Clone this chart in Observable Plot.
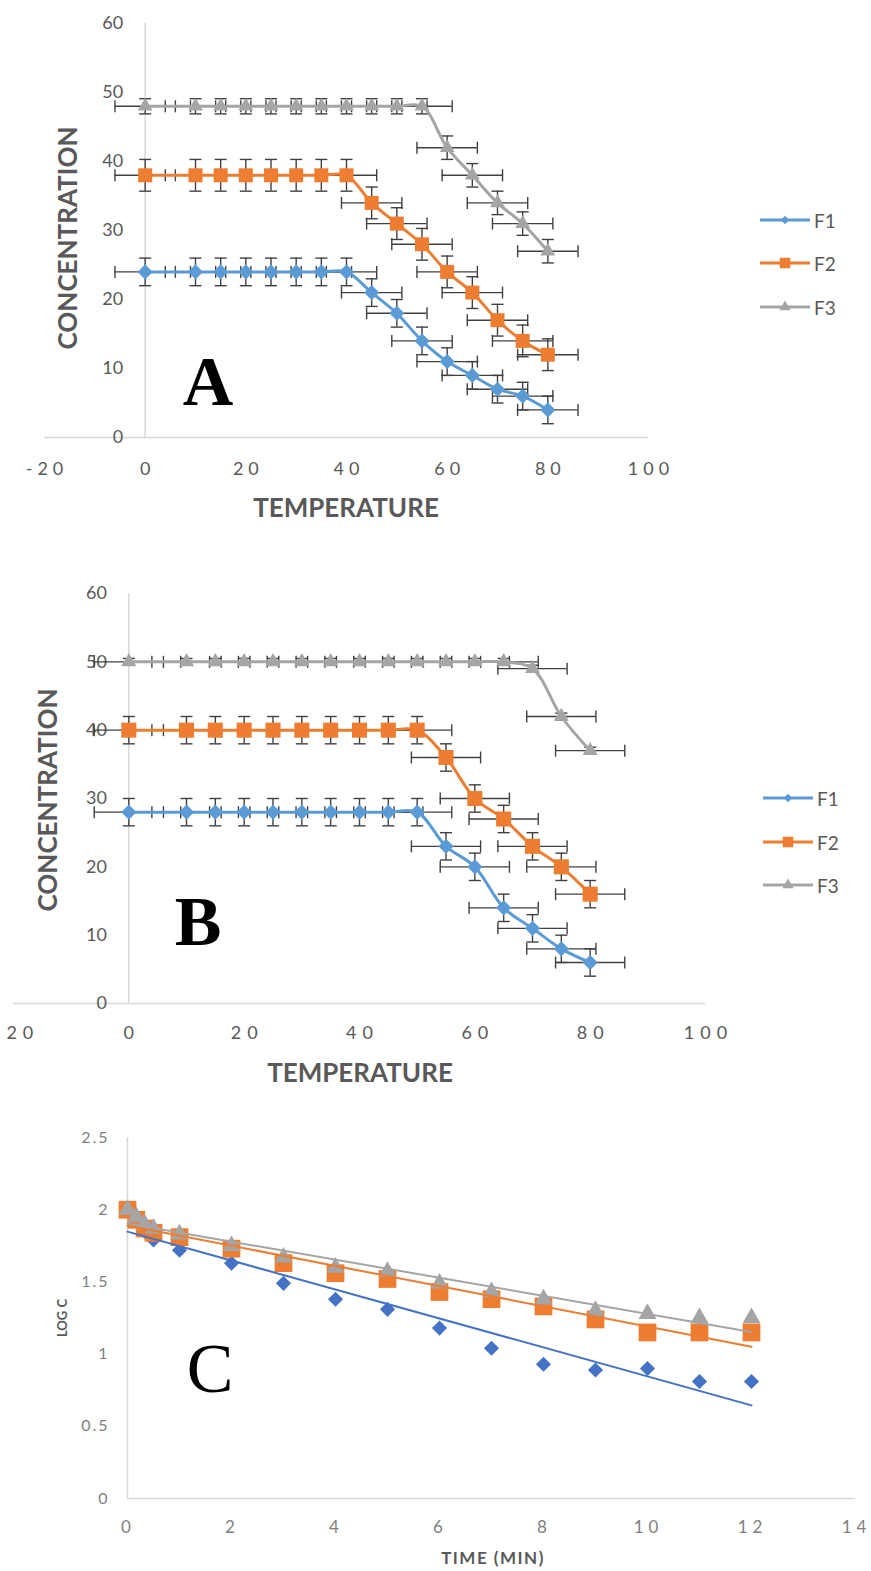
<!DOCTYPE html>
<html><head><meta charset="utf-8">
<script src="https://cdn.jsdelivr.net/npm/d3@7"></script>
<script src="https://cdn.jsdelivr.net/npm/@observablehq/plot@0.6"></script>
<style>
body{margin:0;background:#fff;}
#root{position:relative;width:871px;height:1571px;overflow:hidden;background:#fff;}
#root > svg, #root > div{position:absolute;}
</style></head><body><div id="root"></div>
<script>
// ---------- DATA ----------
const seriesNames = ["F1", "F2", "F3"];
const colorsAB = ["#5B9BD5", "#ED7D31", "#A5A5A5"];
const colorsC = ["#4472C4", "#ED7D31", "#A5A5A5"];
const symbolsAll = ["diamond2", "square", "triangle"];

// Panel A
const tempA = [0, 10, 15, 20, 25, 30, 35, 40, 45, 50, 55, 60, 65, 70, 75, 80];
const a_F1 = [24, 24, 24, 24, 24, 24, 24, 24, 21, 18, 14, 11, 9, 7, 6, 4];
const a_F2 = [38, 38, 38, 38, 38, 38, 38, 38, 34, 31, 28, 24, 21, 17, 14, 12];
const a_F3 = [48, 48, 48, 48, 48, 48, 48, 48, 48, 48, 48, 42, 38, 34, 31, 27];
const a_F1_err = [2, 2, 2, 2, 2, 2, 2, 2, 2, 2, 2, 2, 2, 2, 2, 2];
const a_F2_err = [2.3, 2.3, 2.3, 2.3, 2.3, 2.3, 2.3, 2.3, 2.3, 2.3, 2.3, 2.3, 2.3, 2.3, 2.3, 2.3];
const a_F3_err = [1.1, 1.1, 1.1, 1.1, 1.1, 1.1, 1.1, 1.1, 1.1, 1.1, 1.1, 1.7, 1.7, 1.7, 1.7, 1.7];

// Panel B
const tempB = [0, 10, 15, 20, 25, 30, 35, 40, 45, 50, 55, 60, 65, 70, 75, 80];
const b_F1 = [28, 28, 28, 28, 28, 28, 28, 28, 28, 28, 23, 20, 14, 11, 8, 6];
const b_F2 = [40, 40, 40, 40, 40, 40, 40, 40, 40, 40, 36, 30, 27, 23, 20, 16];
const b_F3 = [50, 50, 50, 50, 50, 50, 50, 50, 50, 50, 50, 50, 50, 49, 42, 37];
const b_F1_err = [2, 2, 2, 2, 2, 2, 2, 2, 2, 2, 2, 2, 2, 2, 2, 2];
const b_F2_err = [2, 2, 2, 2, 2, 2, 2, 2, 2, 2, 2, 2, 2, 2, 2, 2];
const b_F3_err = [0.5, 0.5, 0.5, 0.5, 0.5, 0.5, 0.5, 0.5, 0.5, 0.5, 0.5, 0.5, 0.5, 0.5, 0.5, 0.5];
const tempErr = 6; // horizontal error (°)

// Panel C
const timeC = [0, 0.17, 0.33, 0.5, 1, 2, 3, 4, 5, 6, 7, 8, 9, 10, 11, 12];
const c_F1 = [2.0, 1.92, 1.85, 1.79, 1.72, 1.63, 1.49, 1.38, 1.31, 1.18, 1.04, 0.93, 0.89, 0.90, 0.81, 0.81];
const c_F2 = [2.0, 1.93, 1.87, 1.84, 1.81, 1.73, 1.63, 1.56, 1.52, 1.43, 1.38, 1.33, 1.24, 1.15, 1.15, 1.15];
const c_F3 = [2.0, 1.95, 1.90, 1.87, 1.83, 1.75, 1.67, 1.60, 1.57, 1.49, 1.43, 1.38, 1.30, 1.28, 1.25, 1.25];

// Tick labels
const tempTicks = [-20, 0, 20, 40, 60, 80, 100];
const concTicks = [0, 10, 20, 30, 40, 50, 60];
const timeTicks = [0, 2, 4, 6, 8, 10, 12, 14];
const logTicks = [0, 0.5, 1, 1.5, 2, 2.5];

// ---------- HELPERS ----------
const root = document.getElementById("root");
const capH = {draw(ctx, size) { const r = Math.sqrt(size / Math.PI); ctx.moveTo(-r, 0); ctx.lineTo(r, 0); }};
const capV = {draw(ctx, size) { const r = Math.sqrt(size / Math.PI); ctx.moveTo(0, -r); ctx.lineTo(0, r); }};
const errColor = "#404040";

function rowsOf(xs, ys, ye, xe) {
  return xs.map((x, i) => ({x, y: ys[i], ye: ye ? ye[i] : 0, xe: xe || 0}));
}

function place(el, left, top) {
  el.style.left = left + "px"; el.style.top = top + "px";
  root.appendChild(el);
  return el;
}

function spaceTicks(svg, desc, ls) {
  d3.select(svg).selectAll(`g[aria-description="${desc}"] text`).style("letter-spacing", ls + "px");
}

function tempPanel(cfg) {
  const all = cfg.series.map(s => rowsOf(cfg.temps, s.vals, s.err, tempErr));
  const errMarks = [], lineMarks = [], dotMarks = [];
  all.forEach((rows, k) => {
    errMarks.push(
      Plot.ruleY(rows, {x1: d => d.x - d.xe, x2: d => d.x + d.xe, y: "y", stroke: errColor, strokeWidth: 1.4}),
      Plot.ruleX(rows, {x: "x", y1: d => d.y - d.ye, y2: d => d.y + d.ye, stroke: errColor, strokeWidth: 1.4}),
      Plot.dot(rows, {x: d => d.x - d.xe, y: "y", symbol: capV, r: 6, fill: "none", stroke: errColor, strokeWidth: 1.4}),
      Plot.dot(rows, {x: d => d.x + d.xe, y: "y", symbol: capV, r: 6, fill: "none", stroke: errColor, strokeWidth: 1.4}),
      Plot.dot(rows, {x: "x", y: d => d.y - d.ye, symbol: capH, r: 6, fill: "none", stroke: errColor, strokeWidth: 1.4}),
      Plot.dot(rows, {x: "x", y: d => d.y + d.ye, symbol: capH, r: 6, fill: "none", stroke: errColor, strokeWidth: 1.4})
    );
    lineMarks.push(Plot.line(rows, {x: "x", y: "y", stroke: colorsAB[k], strokeWidth: 3, curve: "catmull-rom"}));
    dotMarks.push(Plot.dot(rows, {x: "x", y: "y", symbol: symbolsAll[k], r: cfg.r[k], fill: colorsAB[k], stroke: "none"}));
  });
  const svg = Plot.plot({
    width: cfg.width, height: cfg.height,
    marginTop: cfg.mt, marginBottom: cfg.mb, marginLeft: cfg.ml, marginRight: cfg.mr,
    x: {domain: [-20, 100], axis: null},
    y: {domain: [0, 60], axis: null},
    style: {background: "transparent"},
    marks: [
      Plot.ruleY([0], {stroke: "#d9d9d9", strokeWidth: 1.5}),
      Plot.ruleX([0], {stroke: "#d9d9d9", strokeWidth: 1.5}),
      Plot.text(concTicks, {x: () => 0, y: d => d, text: d => String(d), textAnchor: "end", dx: cfg.ytdx,
        fill: "#595959", fontSize: 18, fontFamily: "Lato", ariaDescription: "ytick"}),
      Plot.text(tempTicks, {x: d => d, y: () => 0, text: d => String(d), dy: cfg.xtdy, dx: cfg.xls / 2,
        fill: "#595959", fontSize: 18, fontFamily: "Lato", ariaDescription: "xtick"}),
      ...errMarks, ...lineMarks, ...dotMarks
    ]
  });
  spaceTicks(svg, "xtick", cfg.xls);
  return place(svg, cfg.left, cfg.top);
}

// ---------- PANEL A ----------
tempPanel({
  temps: tempA,
  series: [{vals: a_F1, err: a_F1_err}, {vals: a_F2, err: a_F2_err}, {vals: a_F3, err: a_F3_err}],
  left: 0, top: 0, width: 720, height: 530, mt: 23, mb: 93, ml: 44, mr: 72,
  ytdx: -22, xtdy: 32, xls: 5, r: [6.8, 7.9, 5.5]
});

// ---------- PANEL B ----------
tempPanel({
  temps: tempB,
  series: [{vals: b_F1, err: b_F1_err}, {vals: b_F2, err: b_F2_err}, {vals: b_F3, err: b_F3_err}],
  left: 0, top: 560, width: 750, height: 530, mt: 33, mb: 87, ml: 13, mr: 45,
  ytdx: -22, xtdy: 30, xls: 6, r: [6.8, 8.5, 5.6]
});

// ---------- PANEL C ----------
{
  const sets = [c_F1, c_F2, c_F3].map(v => rowsOf(timeC, v));
  const rs = [6.8, 10, 6.7];
  const svg = Plot.plot({
    width: 871, height: 471, marginTop: 37, marginBottom: 73, marginLeft: 127, marginRight: 16,
    x: {domain: [0, 14], axis: null},
    y: {domain: [0, 2.5], axis: null},
    style: {background: "transparent"},
    marks: [
      Plot.ruleY([0], {stroke: "#d9d9d9", strokeWidth: 1.5}),
      Plot.ruleX([0], {stroke: "#d9d9d9", strokeWidth: 1.5}),
      Plot.text(logTicks, {x: () => 0, y: d => d, text: d => String(d), textAnchor: "end", dx: -18,
        fill: "#7f7f7f", fontSize: 16, fontFamily: "Lato", ariaDescription: "ytick"}),
      Plot.text(timeTicks, {x: d => d, y: () => 0, text: d => String(d), dy: 29, dx: 1,
        fill: "#7f7f7f", fontSize: 17, fontFamily: "Lato", ariaDescription: "xtick"}),
      ...sets.map((rows, k) => Plot.dot(rows, {x: "x", y: "y", symbol: symbolsAll[k], r: rs[k], fill: colorsC[k], stroke: "none"})),
      ...sets.map((rows, k) => Plot.linearRegressionY(rows, {x: "x", y: "y", stroke: colorsC[k], strokeWidth: 2, ci: 0}))
    ]
  });
  spaceTicks(svg, "xtick", 5);
  spaceTicks(svg, "ytick", 2);
  place(svg, 0, 1100);
}

// ---------- TITLES, PANEL LETTERS, LEGENDS ----------
{
  const ov = d3.create("svg").attr("width", 871).attr("height", 1571)
    .style("pointer-events", "none");
  const title = (txt, x, y, size, rot, ls) => ov.append("text")
    .attr("transform", `translate(${x},${y}) rotate(${rot})`)
    .attr("text-anchor", "middle").attr("dominant-baseline", "central")
    .attr("font-family", "Lato").attr("font-weight", "bold").attr("font-size", size)
    .attr("fill", "#595959").style("letter-spacing", ls || "0px").text(txt);
  title("CONCENTRATION", 67, 238, 26, -90);
  title("TEMPERATURE", 346, 507, 26, 0);
  title("CONCENTRATION", 47, 800, 26, -90);
  title("TEMPERATURE", 360, 1072, 26, 0);
  title("LOG C", 62, 1318, 13, -90);
  title("TIME (MIN)", 493, 1557, 17, 0, "1.5px");

  const letter = (txt, x, y, weight) => ov.append("text").attr("x", x).attr("y", y)
    .attr("text-anchor", "middle").attr("font-family", "'Liberation Serif', serif")
    .attr("font-weight", weight).attr("font-size", 70).attr("fill", "#000").text(txt);
  letter("A", 208, 405, "bold");
  letter("B", 198, 945, "bold");
  letter("C", 210, 1392, "normal");

  const legend = (x0, ys) => {
    seriesNames.forEach((name, k) => {
      const y = ys[k];
      ov.append("line").attr("x1", x0).attr("x2", x0 + 50).attr("y1", y).attr("y2", y)
        .attr("stroke", colorsAB[k]).attr("stroke-width", 3);
      const sym = [d3.symbolDiamond2, d3.symbolSquare, d3.symbolTriangle][k];
      const size = [45, 110, 55][k];
      ov.append("path").attr("d", d3.symbol(sym, size)()).attr("transform", `translate(${x0 + 25},${y})`)
        .attr("fill", colorsAB[k]);
      ov.append("text").attr("x", x0 + 54).attr("y", y).attr("dominant-baseline", "central")
        .attr("font-family", "Lato").attr("font-size", 19).attr("fill", "#595959").text(name);
    });
  };
  legend(760, [220, 263, 307]);
  legend(763, [798, 842, 885]);
  place(ov.node(), 0, 0);
}
</script></body></html>
